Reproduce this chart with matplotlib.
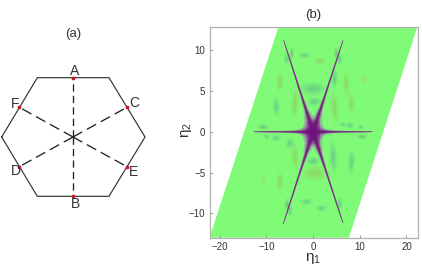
import numpy as np
import matplotlib
matplotlib.use("Agg")
import matplotlib.pyplot as plt
from matplotlib.patches import Ellipse, Polygon

plt.rcParams['font.family'] = ['Liberation Sans', 'DejaVu Sans']
plt.rcParams['mathtext.fontset'] = 'custom'
plt.rcParams['mathtext.rm'] = 'Liberation Sans'
plt.rcParams['mathtext.it'] = 'Liberation Sans'

W, H = 422, 273

# panel (a), in picture pixels
hex_x = [1.7, 37.3, 109, 145, 109, 37.3, 1.7]
hex_y = [137, 77.7, 77.7, 137, 196.3, 196.3, 137]
pt_names = ['A', 'B', 'C', 'D', 'E', 'F']
pt_x = [73, 73, 127, 19.3, 127, 19.3]
pt_y = [77.7, 196.3, 107.3, 166.7, 166.7, 107.3]
lbl_x = [75, 75, 134, 16, 133, 15]
lbl_y = [71, 204, 103, 171, 172, 104]
centre = (73, 137)

# panel (b)
para_x = [-22.2, 7.65, 22.4, -7.35]
para_y = [-13, -13, 13, 13]
x_ticks = [-20, -10, 0, 10, 20]
y_ticks = [-10, -5, 0, 5, 10]
arm_tips = [(12.7, 0), (-12.7, 0), (6.4, 11.2), (-6.3, 11.2), (-6.4, -11.3), (6.4, -11.2)]
# radial position along an arm (fraction) and half widths in pixels
prof_r = [0, 0.06, 0.14, 0.25, 0.4, 0.6, 0.8, 1.0]
halo_w = [11, 9, 5, 2.4, 1.3, 0.95, 0.8, 0.4]
mid_w = [7, 5.5, 2.8, 1.4, 0.9, 0.7, 0.6, 0.3]
core_w = [3.5, 2.6, 1.3, 0.8, 0.55, 0.42, 0.35, 0.2]

TEAL, OLIVE, GREY, YEL = '#4f9f9a', '#9fae50', '#5f8f6a', '#c0c85a'
blob_x = [-10.7, 10.5, -1.8, 1.4, 0, 0.4, -1.4, 1.8, -4.6, -5.7, 5, 5.7, -7.1, -7.9, -3.9, 4.6,
          7.1, 8.2, 11, 4.6, 7.9, 10.2, 6.3, -7.9, -5, -10.0, 4.3, 8.2, -3.9, -7.1, -10.7, -5, 5.7, -5.6, 0.2, 0]
blob_y = [0.6, -0.6, 9.4, 8.7, 5.3, -5.1, -8.6, -9.4, 9.6, 9, 9.6, 8.9, 6.1, 3.1, 3.5, 2.9,
          5.9, 3.5, 6.5, 6.5, 0.8, 0.6, 0.9, -0.8, -1.4, -0.6, -3.1, -3.7, -3, -6.1, -6.1, -9.6, -8.8, -8.9, 3.7, -3.6]
blob_w = [1.8, 1.8, 1.8, 1.8, 4.4, 4.2, 1.8, 1.8, 0.7, 0.8, 0.8, 0.8, 1.0, 1.1, 1.1, 1.2,
          1.0, 1.1, 0.8, 1.0, 1.5, 1.0, 1.0, 1.5, 1.3, 1.0, 1.2, 1.1, 1.2, 1.0, 0.9, 0.8, 0.8, 0.8, 2.2, 2.2]
blob_h = [0.5, 0.5, 0.55, 0.6, 1.2, 1.4, 0.6, 0.6, 1.2, 1.1, 1.2, 1.1, 1.8, 1.8, 3.0, 3.0,
          2.2, 2.0, 1.1, 1.7, 0.55, 0.4, 0.4, 0.55, 0.9, 0.4, 2.8, 2.2, 2.6, 1.8, 1.1, 1.2, 1.2, 1.1, 0.8, 0.8]
blob_a = [0, 0, 0, 0, 0, 0, 0, 0, -8, -8, 8, -8, -8, 8, -8, 8,
          8, 8, 0, -8, 0, 0, 0, 0, 20, 0, 8, -8, 8, -8, 0, 8, 8, -8, 0, 0]
blob_c = [GREY, GREY, TEAL, OLIVE, TEAL, OLIVE, TEAL, TEAL, GREY, TEAL, GREY, TEAL, OLIVE, TEAL, OLIVE, OLIVE,
          OLIVE, OLIVE, YEL, TEAL, TEAL, TEAL, TEAL, TEAL, TEAL, TEAL, TEAL, TEAL, OLIVE, OLIVE, YEL, TEAL, TEAL, GREY, TEAL, TEAL]

fig = plt.figure(figsize=(W / 100, H / 100), dpi=100, facecolor='white')

# ---- panel (a)
a = fig.add_axes([0, 0, 1, 1])
a.set_xlim(0, W); a.set_ylim(H, 0); a.axis('off')
a.plot(hex_x, hex_y, color='#333333', lw=0.85, solid_joinstyle='miter')
for px, py in zip(pt_x, pt_y):
    pat = (5.5, 3.2) if px == centre[0] else (8, 4)
    a.plot([centre[0], px], [centre[1], py], color='#222222', lw=0.95, dashes=pat)
a.scatter(pt_x, pt_y, s=7, color='#d01020', linewidths=0, zorder=3)
for n, lx, ly in zip(pt_names, lbl_x, lbl_y):
    a.text(lx, ly, n, ha='center', va='center', fontsize=10, color='#333333')
a.text(73, 34, '(a)', ha='center', va='center', fontsize=9.5, color='#333333')

# ---- panel (b)
L, R, T, B = 209.5, 417.7, 26.7, 237.7
ax = fig.add_axes([L / W, 1 - B / H, (R - L) / W, (B - T) / H])
xlim = (-22.2, 22.4); ylim = (-13.0, 12.9)
ax.set_xlim(*xlim); ax.set_ylim(*ylim)
sx = (R - L) / (xlim[1] - xlim[0]); sy = (B - T) / (ylim[1] - ylim[0])

para = Polygon(list(zip(para_x, para_y)), closed=True, fc='#80fb78', ec='none', zorder=1)
ax.add_patch(para)

for x, y, w, h, ang, c in zip(blob_x, blob_y, blob_w, blob_h, blob_a, blob_c):
    for k, al in ((1.5, 0.07), (1.15, 0.11), (0.8, 0.14), (0.45, 0.16)):
        e = Ellipse((x, y), w * k, h * k, angle=ang, fc=c, ec='none', alpha=al, zorder=2)
        ax.add_patch(e)
        e.set_clip_path(para)

def arm(tip, widths, color, alpha, z):
    px = np.array([tip[0] * sx, tip[1] * sy])
    u = px / np.hypot(*px)
    n = np.array([-u[1], u[0]])
    r = np.array(prof_r)[:, None]
    w = np.array(widths)[:, None]
    up = r * px + w * n
    dn = r * px - w * n
    pts = np.vstack([up, dn[::-1]]) / [sx, sy]
    ax.fill(pts[:, 0], pts[:, 1], fc=color, ec='none', alpha=alpha, zorder=z)

for tip in arm_tips:
    arm(tip, halo_w, '#a070b0', 0.4, 3)
for tip in arm_tips:
    arm(tip, mid_w, '#822a90', 0.55, 4)
for tip in arm_tips:
    arm(tip, core_w, '#70147a', 0.9, 5)

ax.set_xticks(x_ticks); ax.set_yticks(y_ticks)
ax.tick_params(direction='in', length=2, width=0.6, color='#888888', labelsize=7, pad=3, labelcolor='#333333')
for s in ax.spines.values():
    s.set_color('#b0b0b0'); s.set_linewidth(0.9)
fig.text(313 / W, 1 - 15 / H, '(b)', ha='center', va='center', fontsize=9.5, color='#333333')
fig.text(313 / W, 1 - 258 / H, r'$\mathrm{\eta_1}$', ha='center', va='center', fontsize=11, color='#333333')
fig.text(186 / W, 1 - 130 / H, r'$\mathrm{\eta_2}$', ha='center', va='center', rotation=90, fontsize=11, color='#333333')

fig.savefig('out.png', dpi=100)
